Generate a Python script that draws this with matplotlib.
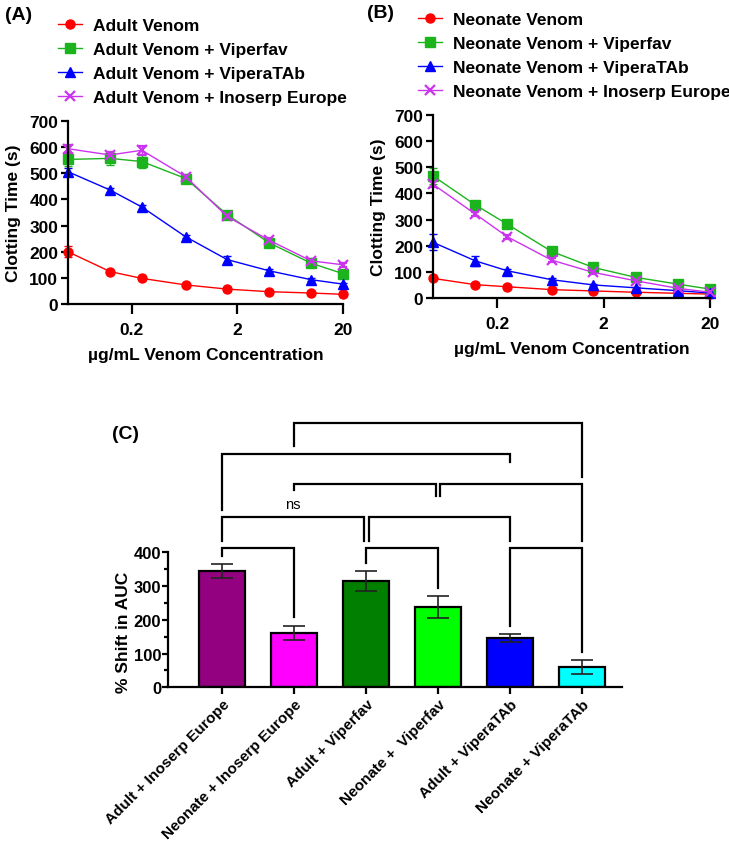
import numpy as np
import matplotlib
matplotlib.use("Agg")
import matplotlib.pyplot as plt
from matplotlib.lines import Line2D
from matplotlib.ticker import NullLocator, FixedLocator

plt.rcParams['font.family'] = ['Liberation Sans', 'DejaVu Sans']
plt.rcParams['font.weight'] = 'bold'
plt.rcParams['axes.labelweight'] = 'bold'

# --- Data: clotting time vs venom concentration ---
conc = [0.05, 0.125, 0.25, 0.65, 1.6, 4, 10, 20]

adult_venom = [200, 124, 98, 73, 57, 47, 42, 37]
adult_venom_err = [20, 6, 5, 5, 4, 4, 4, 3]
adult_viperfav = [553, 557, 545, 480, 342, 234, 156, 116]
adult_viperfav_err = [25, 25, 25, 10, 10, 8, 8, 8]
adult_viperatab = [506, 436, 371, 257, 170, 127, 93, 76]
adult_viperatab_err = [15, 6, 6, 6, 15, 6, 6, 6]
adult_inoserp = [594, 570, 588, 487, 335, 244, 165, 150]
adult_inoserp_err = [15, 12, 18, 8, 8, 8, 8, 8]

neo_venom = [75, 51, 43, 32, 27, 22, 18, 15]
neo_venom_err = [6, 4, 3, 3, 3, 3, 3, 3]
neo_viperfav = [467, 356, 282, 178, 117, 79, 53, 34]
neo_viperfav_err = [30, 8, 8, 8, 8, 6, 5, 4]
neo_viperatab = [213, 142, 104, 70, 50, 39, 28, 19]
neo_viperatab_err = [30, 20, 8, 6, 5, 4, 3, 3]
neo_inoserp = [435, 321, 234, 145, 98, 66, 37, 22]
neo_inoserp_err = [12, 8, 8, 8, 6, 5, 4, 3]

adult_labels = ["Adult Venom", "Adult Venom + Viperfav",
                "Adult Venom + ViperaTAb", "Adult Venom + Inoserp Europe"]
neo_labels = ["Neonate Venom", "Neonate Venom + Viperfav",
              "Neonate Venom + ViperaTAb", "Neonate Venom + Inoserp Europe"]

# --- Data: % shift in AUC ---
groups = ["Adult + Inoserp Europe", "Neonate + Inoserp Europe", "Adult + Viperfav",
          "Neonate +  Viperfav", "Adult + ViperaTAb", "Neonate + ViperaTAb"]
auc_shift = [344, 162, 314, 239, 146, 61]
auc_err = [20, 21, 30, 33, 11, 21]
bar_colors = ["#930080", "#FF00FF", "#007F00", "#00FF00", "#0000FF", "#00FFFF"]

# significance brackets: (bar a, bar b, bracket height, left leg end, right leg end, label)
brackets = [
    (1, 5, 783, 714, 622, ""),
    (0, 4, 691, 526, 667, ""),
    (1, 3, 601, 585, 568, ""),
    (3, 5, 601, 568, 434, ""),
    (0, 2, 504, 434, 434, "ns"),
    (2, 4, 504, 434, 434, ""),
    (0, 1, 414, 388, 207, ""),
    (2, 3, 414, 368, 295, ""),
    (4, 5, 414, 182, 105, ""),
]

styles = [
    dict(color="#FF0000", marker="o", ms=6.5),
    dict(color="#1CB41C", marker="s", ms=6.5),
    dict(color="#0000FF", marker="^", ms=6.5),
    dict(color="#CC33EE", marker="x", ms=7.5, mew=1.6),
]

W, H = 729, 845
fig = plt.figure(figsize=(W / 100, H / 100), dpi=100)


def fig_rect(x0, y0, x1, y1):
    return [x0 / W, 1 - y1 / H, (x1 - x0) / W, (y1 - y0) / H]


def curve_panel(rect, series, errors, labels, leg_xy):
    ax = fig.add_axes(rect)
    handles = []
    for y, e, lab, st in zip(series, errors, labels, styles):
        ax.errorbar(conc, y, yerr=e, color=st["color"], marker=st["marker"],
                    ms=st["ms"], mew=st.get("mew", 1), lw=1.0, elinewidth=1.0,
                    capsize=3, capthick=1.0, clip_on=False)
        handles.append(Line2D([], [], color=st["color"], marker=st["marker"],
                              ms=st["ms"], mew=st.get("mew", 1), lw=1.0, label=lab))
    ax.set_xscale("log")
    ax.set_xlim(0.05, 20)
    ax.set_ylim(0, 700)
    ax.set_xticks([0.2, 2, 20])
    ax.set_xticklabels(["0.2", "2", "20"])
    ax.xaxis.set_minor_locator(NullLocator())
    ax.set_yticks(np.arange(0, 701, 100))
    for s in ["top", "right"]:
        ax.spines[s].set_visible(False)
    for s in ["left", "bottom"]:
        ax.spines[s].set_linewidth(1.6)
    ax.tick_params(axis="y", length=5, width=1.6, labelsize=12.5, pad=2)
    ax.tick_params(axis="x", length=7, width=1.6, labelsize=12.5, pad=6)
    ax.set_ylabel("Clotting Time (s)", fontsize=12.5, labelpad=6)
    ax.set_xlabel("µg/mL Venom Concentration", fontsize=12.5, labelpad=7)
    fig.legend(handles=handles, loc="upper left",
               bbox_to_anchor=(leg_xy[0] / W, 1 - leg_xy[1] / H),
               frameon=False, fontsize=12.5, handlelength=1.4,
               handletextpad=0.6, labelspacing=0.5, borderpad=0,
               borderaxespad=0)
    return ax


curve_panel(fig_rect(68, 122, 343, 305),
            [adult_venom, adult_viperfav, adult_viperatab, adult_inoserp],
            [adult_venom_err, adult_viperfav_err, adult_viperatab_err, adult_inoserp_err],
            adult_labels, (58, 19))
curve_panel(fig_rect(433, 116, 710, 299),
            [neo_venom, neo_viperfav, neo_viperatab, neo_inoserp],
            [neo_venom_err, neo_viperfav_err, neo_viperatab_err, neo_inoserp_err],
            neo_labels, (418, 13))

# --- Panel C ---
axc = fig.add_axes(fig_rect(168.3, 418.3, 621.7, 688.3))
xpos = np.arange(len(groups))
axc.bar(xpos, auc_shift, width=0.64, color=bar_colors, edgecolor="black", linewidth=1.6, zorder=2)
axc.errorbar(xpos, auc_shift, yerr=auc_err, fmt="none", ecolor="#222222",
             elinewidth=1.2, capsize=8, capthick=1.2, zorder=3)
axc.set_xlim(-0.75, len(groups) - 1 + 0.55)
axc.set_ylim(0, 800)
axc.set_yticks(np.arange(0, 401, 100))
axc.yaxis.set_minor_locator(FixedLocator([50, 150, 250, 350]))
axc.spines["left"].set_bounds(0, 400)
for s in ["top", "right"]:
    axc.spines[s].set_visible(False)
for s in ["left", "bottom"]:
    axc.spines[s].set_linewidth(1.6)
axc.tick_params(axis="y", which="major", length=4, width=1.6, labelsize=12, pad=1)
axc.tick_params(axis="y", which="minor", length=3, width=1.6)
axc.tick_params(axis="x", length=5, width=1.6, labelsize=11, pad=2)
axc.set_xticks(xpos)
axc.set_xticklabels(groups, rotation=45, ha="right", va="top", rotation_mode="anchor")
axc.set_ylabel("% Shift in AUC", fontsize=12.5, labelpad=2, y=0.207)

nudge = 0.032
for a, b, yb, ya_end, yb_end, lab in brackets:
    xa, xb = float(a), float(b)
    # keep legs apart where two brackets share a bar
    if any(br[1] == a and br[2] == yb for br in brackets):
        xa += nudge
    if any(br[0] == b and br[2] == yb for br in brackets):
        xb -= nudge
    axc.plot([xa, xa, xb, xb], [ya_end, yb, yb, yb_end], color="black",
             lw=1.6, solid_joinstyle="miter", clip_on=False, zorder=4)
    if lab:
        axc.text((xa + xb) / 2, yb + 18, lab, ha="center", va="bottom",
                 fontsize=10.5, fontweight="normal")

fig.text(5 / W, 1 - 15 / H, "(A)", fontsize=14, fontweight="bold", va="center")
fig.text(367 / W, 1 - 13 / H, "(B)", fontsize=14, fontweight="bold", va="center")
fig.text(112 / W, 1 - 435 / H, "(C)", fontsize=14, fontweight="bold", va="center")

fig.savefig("out.png", dpi=100)
